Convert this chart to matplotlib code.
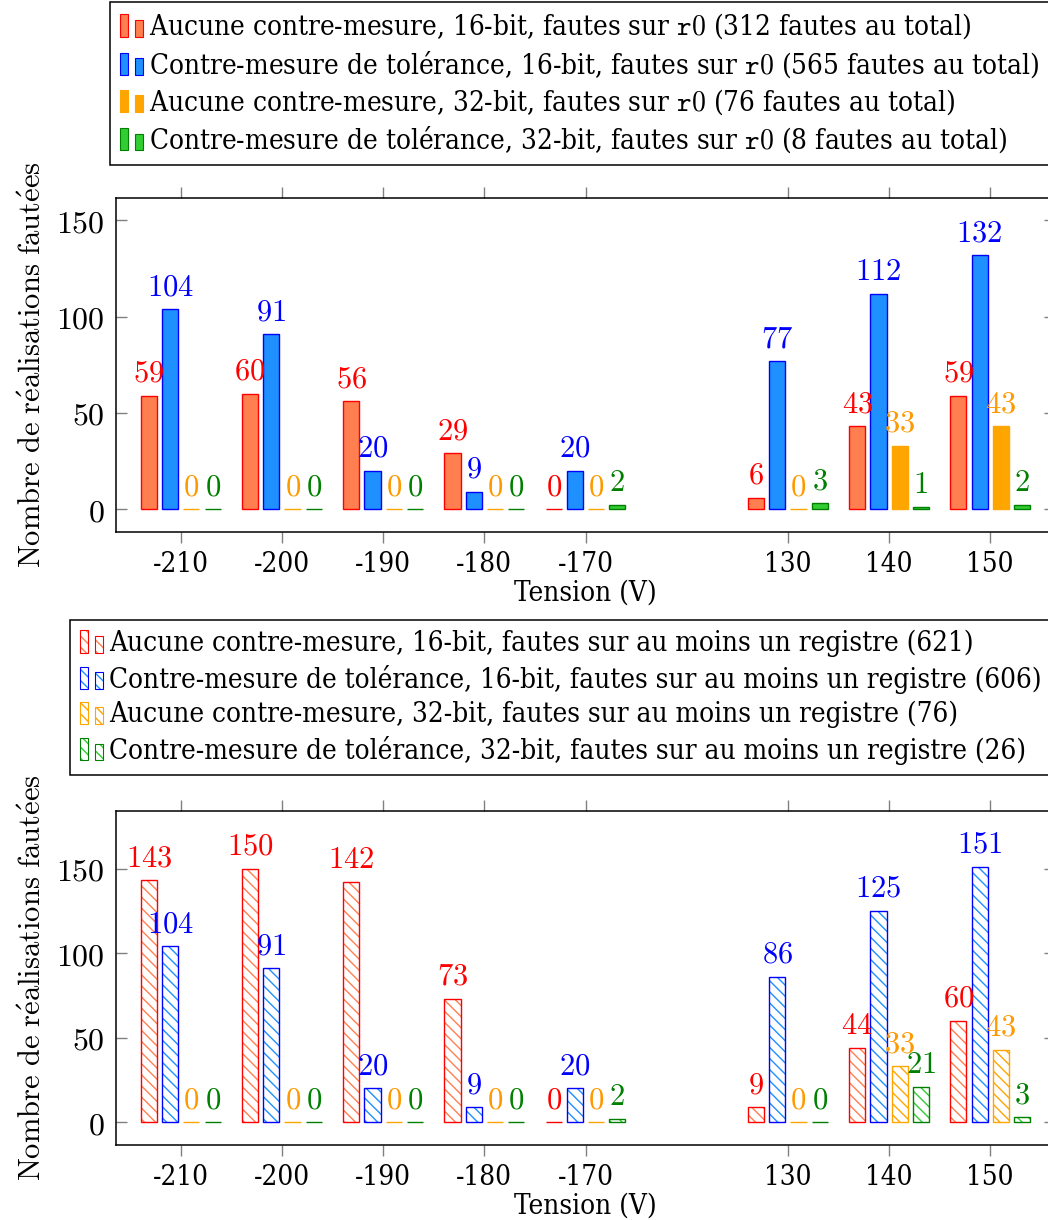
import matplotlib
matplotlib.use('Agg')
import numpy as np
import matplotlib.pyplot as plt
from matplotlib.patches import Rectangle
from matplotlib.legend_handler import HandlerBase

plt.rcParams['font.family'] = ['DejaVu Serif']
plt.rcParams['font.stretch'] = 'condensed'
plt.rcParams['mathtext.fontset'] = 'cm'

# %% Data
tensions = ['-210', '-200', '-190', '-180', '-170', '130', '140', '150']
yticks = [0, 50, 100, 150]

# faults on r0
r0_none16 = [59, 60, 56, 29, 0, 6, 43, 59]
r0_tol16 = [104, 91, 20, 9, 20, 77, 112, 132]
r0_none32 = [0, 0, 0, 0, 0, 0, 33, 43]
r0_tol32 = [0, 0, 0, 0, 2, 3, 1, 2]

# faults on at least one register
any_none16 = [143, 150, 142, 73, 0, 9, 44, 60]
any_tol16 = [104, 91, 20, 9, 20, 86, 125, 151]
any_none32 = [0, 0, 0, 0, 0, 0, 33, 43]
any_tol32 = [0, 0, 0, 0, 2, 0, 21, 3]

r0_labels = [
    'Aucune contre-mesure, 16-bit, fautes sur $\\mathtt{r0}$ (312 fautes au total)',
    'Contre-mesure de tolérance, 16-bit, fautes sur $\\mathtt{r0}$ (565 fautes au total)',
    'Aucune contre-mesure, 32-bit, fautes sur $\\mathtt{r0}$ (76 fautes au total)',
    'Contre-mesure de tolérance, 32-bit, fautes sur $\\mathtt{r0}$ (8 fautes au total)',
]
any_labels = [
    'Aucune contre-mesure, 16-bit, fautes sur au moins un registre (621)',
    'Contre-mesure de tolérance, 16-bit, fautes sur au moins un registre (606)',
    'Aucune contre-mesure, 32-bit, fautes sur au moins un registre (76)',
    'Contre-mesure de tolérance, 32-bit, fautes sur au moins un registre (26)',
]

fills = ['#FF7F50', '#1E90FF', '#FFA500', '#32CD32']
edges = ['#FF0000', '#0000FF', '#FFA500', '#008000']
txt_colors = ['#FF0000', '#0000FF', '#FF9900', '#008000']

HATCH = '\\\\\\'


# %% Legend handle: two small bars like pgfplots
class TwoBars:
    def __init__(self, fc, ec, hatch=None):
        self.fc, self.ec, self.hatch = fc, ec, hatch


class TwoBarsHandler(HandlerBase):
    def create_artists(self, legend, h, xd, yd, w, hgt, fs, trans):
        arts = []
        bw = w / 3
        for x0, frac in [(0, 1.0), (2 * w / 3, 0.75)]:
            xy = (x0 - xd, -yd)
            if h.hatch:
                arts.append(Rectangle(xy, bw, hgt * frac, facecolor='none', edgecolor=h.fc,
                                      lw=0, hatch=h.hatch, transform=trans))
                arts.append(Rectangle(xy, bw, hgt * frac, fill=False, edgecolor=h.ec,
                                      lw=0.8, transform=trans))
            else:
                arts.append(Rectangle(xy, bw, hgt * frac, facecolor=h.fc, edgecolor=h.ec,
                                      lw=0.8, transform=trans))
        return arts


# %% Plot
fig = plt.figure(figsize=(10.48, 12.2), dpi=100)
W, H = 1048, 1220

# one empty slot between the negative and positive tensions
slots = np.array([i + (1 if float(t) > 0 else 0) for i, t in enumerate(tensions)])
offsets = np.array([-1.5, -0.5, 0.5, 1.5]) * 0.21
bar_w = 0.16


def draw_panel(ax, series, hatched, ylim):
    for k, vals in enumerate(series):
        x = slots + offsets[k]
        if hatched:
            ax.bar(x, vals, bar_w, facecolor='none', edgecolor=fills[k], lw=0, hatch=HATCH)
            bars = ax.bar(x, vals, bar_w, fill=False, edgecolor=edges[k], lw=1.0)
        else:
            bars = ax.bar(x, vals, bar_w, facecolor=fills[k], edgecolor=edges[k], lw=1.0)
        ax.bar_label(bars, labels=[f'${v}$' for v in vals], padding=5,
                     color=txt_colors[k], fontsize=22)
    ax.set_xlim(-0.64, 8.64)
    ax.set_ylim(*ylim)
    ax.set_xticks(slots, labels=tensions)
    ax.set_yticks(yticks, labels=[f'${t}$' for t in yticks])
    ax.tick_params(axis='x', direction='out', top=True, bottom=True, color='#808080',
                   length=8, width=1, labelsize=20, pad=6)
    ax.tick_params(axis='y', direction='in', left=True, right=True, color='#808080',
                   length=8, width=1, labelsize=23, pad=8)
    for s in ax.spines.values():
        s.set_linewidth(1.1)
    ax.set_xlabel('Tension (V)', fontsize=20, labelpad=1)
    ax.set_ylabel(r'$\mathrm{Nombre\ de\ r\acute{e}alisations\ faut\acute{e}es}$', fontsize=22, labelpad=6)


ax1 = fig.add_axes([116 / W, 1 - 532 / H, (1055 - 116) / W, (532 - 198) / H])
ax2 = fig.add_axes([116 / W, 1 - 1145 / H, (1055 - 116) / W, (1145 - 811) / H])

draw_panel(ax1, [r0_none16, r0_tol16, r0_none32, r0_tol32], False, (-11.8, 161.6))
draw_panel(ax2, [any_none16, any_tol16, any_none32, any_tol32], True, (-13.4, 184))

leg_kw = dict(loc='upper left', mode='expand', borderaxespad=0, fancybox=False,
              edgecolor='black', framealpha=1, fontsize=20, handlelength=0.85,
              handleheight=0.85, handletextpad=0.2, labelspacing=0.27, borderpad=0.35,
              handler_map={TwoBars: TwoBarsHandler()})

h1 = [TwoBars(fills[k], edges[k]) for k in range(4)]
l1 = fig.legend(h1, r0_labels, bbox_to_anchor=(110 / W, 1 - 2 / H, 960 / W, 0), **leg_kw)
l1.get_frame().set_linewidth(1.1)

h2 = [TwoBars(fills[k], edges[k], HATCH) for k in range(4)]
l2 = fig.legend(h2, any_labels, bbox_to_anchor=(70 / W, 1 - 620 / H, 1000 / W, 0), **leg_kw)
l2.get_frame().set_linewidth(1.1)

fig.savefig('out.png', dpi=100)
